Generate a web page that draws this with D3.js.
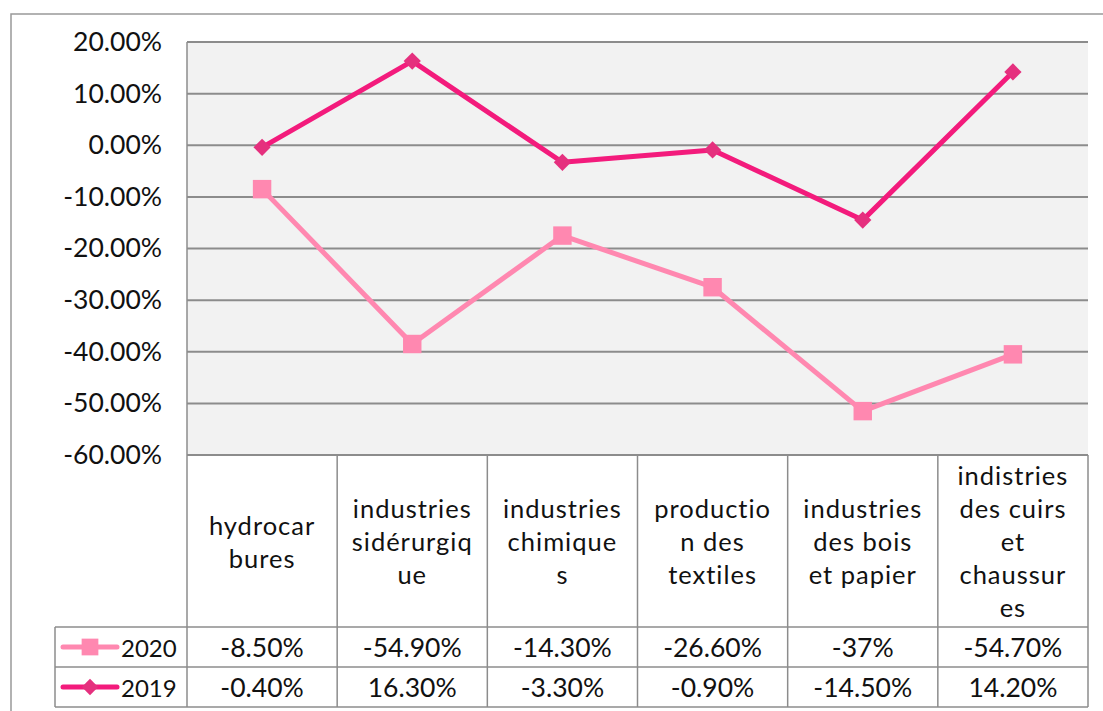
<!DOCTYPE html>
<html>
<head>
<meta charset="utf-8">
<script src="https://cdn.jsdelivr.net/npm/d3@7"></script>
<style>
  body { margin: 0; background: #fff; }
  text { font-family: Lato, "Open Sans", sans-serif; fill: #111; }
</style>
</head>
<body>
<div id="svg_div"></div>
<script>
// Categories (header cells, pre-wrapped like the original)
var categories = [
    ["hydrocar", "bures"],
    ["industries", "sidérurgiq", "ue"],
    ["industries", "chimique", "s"],
    ["productio", "n des", "textiles"],
    ["industries", "des bois", "et papier"],
    ["indistries", "des cuirs", "et", "chaussur", "es"]
];
var seriesNames = ["2020", "2019"];
// Plotted values
var values2020 = [-8.5, -38.5, -17.5, -27.5, -51.5, -40.5];
var values2019 = [-0.4, 16.3, -3.3, -0.9, -14.5, 14.2];
// Values written in the data table
var labels2020 = ["-8.50%", "-54.90%", "-14.30%", "-26.60%", "-37%", "-54.70%"];
var labels2019 = ["-0.40%", "16.30%", "-3.30%", "-0.90%", "-14.50%", "14.20%"];
var yTicks = [20, 10, 0, -10, -20, -30, -40, -50, -60];

var svg = d3.select("#svg_div").append("svg").attr("width", 1103).attr("height", 711);

var margin = {top: 42, left: 187, right: 15, bottom: 256};
var width = 1103 - margin.left - margin.right;
var height = 711 - margin.top - margin.bottom;

var colors = {"2020": "#ff88b0", "2019": "#f31b7c"};
var markerFill = {"2020": "#ff88b0", "2019": "#e5307e"};
var fontSize = 24, numSize = 26.5, headSize = 25.5;

// Outer frame
svg.append("rect")
    .attr("x", 11).attr("y", 14)
    .attr("width", 1120).attr("height", 720)
    .attr("fill", "none").attr("stroke", "#999").attr("stroke-width", 1.5);

var xScale = d3.scaleBand().domain(d3.range(categories.length)).range([0, width]);
var yScale = d3.scaleLinear().domain([-60, 20]).range([height, 0]);

var g = svg.append("g").attr("transform", "translate(" + [margin.left, margin.top] + ")");

// Plot background
g.append("rect").attr("width", width).attr("height", height).attr("fill", "#f2f2f2");

// Gridlines
g.selectAll(".grid").data(yTicks).enter().append("line")
    .attr("x1", 0).attr("x2", width)
    .attr("y1", function(d) { return yScale(d); })
    .attr("y2", function(d) { return yScale(d); })
    .attr("stroke", "#8c8c8c").attr("stroke-width", 2);

g.append("line").attr("x1", 0).attr("x2", 0).attr("y1", 0).attr("y2", height)
    .attr("stroke", "#8c8c8c").attr("stroke-width", 1.5);

// Y axis labels
var yAxis = d3.axisLeft(yScale).tickValues(yTicks).tickSize(0).tickPadding(25)
    .tickFormat(function(d) { return d.toFixed(2) + "%"; });
var yAxisG = g.append("g").call(yAxis);
yAxisG.select(".domain").remove();
yAxisG.selectAll("text").attr("font-size", numSize).attr("font-family", "Lato, sans-serif").attr("fill", "#111");

// Lines and markers
function cx(i) { return xScale(i) + xScale.bandwidth() / 2; }
var series = [{name: "2020", values: values2020}, {name: "2019", values: values2019}];
var line = d3.line().x(function(d, i) { return cx(i); }).y(function(d) { return yScale(d); });

series.forEach(function(s) {
    g.append("path").datum(s.values)
        .attr("d", line).attr("fill", "none")
        .attr("stroke", colors[s.name]).attr("stroke-width", 5)
        .attr("stroke-linejoin", "round");
    var sym = s.name === "2020" ? d3.symbolSquare : d3.symbolDiamond2;
    var size = s.name === "2020" ? 340 : 190;
    g.selectAll(".m" + s.name).data(s.values).enter().append("path")
        .attr("d", d3.symbol().type(sym).size(size))
        .attr("transform", function(d, i) { return "translate(" + [cx(i), yScale(d)] + ")"; })
        .attr("fill", markerFill[s.name]);
});

// Data table
var tableTop = margin.top + height;
var headerH = 172, rowH = 40;
var legendLeft = 55;
var tg = svg.append("g");
var gridColor = "#8c8c8c";

// vertical lines in header + rows
d3.range(categories.length + 1).forEach(function(i) {
    var x = margin.left + (i < categories.length ? xScale(i) : width);
    tg.append("line").attr("x1", x).attr("x2", x)
        .attr("y1", tableTop).attr("y2", tableTop + headerH + 2 * rowH)
        .attr("stroke", gridColor).attr("stroke-width", 1.5);
});
[0, 1, 2].forEach(function(r) {
    var y = tableTop + headerH + r * rowH;
    tg.append("line").attr("x1", legendLeft).attr("x2", margin.left + width)
        .attr("y1", y).attr("y2", y).attr("stroke", gridColor).attr("stroke-width", 1.5);
});
tg.append("line").attr("x1", legendLeft).attr("x2", legendLeft)
    .attr("y1", tableTop + headerH).attr("y2", tableTop + headerH + 2 * rowH)
    .attr("stroke", gridColor).attr("stroke-width", 1.5);

// Header text
var lineH = 33;
categories.forEach(function(lines, i) {
    var midY = tableTop + headerH / 2;
    var startY = midY - (lines.length - 1) * lineH / 2;
    lines.forEach(function(t, j) {
        tg.append("text")
            .attr("x", margin.left + cx(i)).attr("y", startY + j * lineH)
            .attr("text-anchor", "middle").attr("dominant-baseline", "central")
            .attr("font-size", headSize).attr("letter-spacing", 1).text(t);
    });
});

// Row cells and legend keys
var rowLabels = {"2020": labels2020, "2019": labels2019};
seriesNames.forEach(function(name, r) {
    var midY = tableTop + headerH + r * rowH + rowH / 2;
    tg.append("line").attr("x1", 63).attr("x2", 117).attr("y1", midY).attr("y2", midY)
        .attr("stroke", colors[name]).attr("stroke-width", 5).attr("stroke-linecap", "round");
    var sym = name === "2020" ? d3.symbolSquare : d3.symbolDiamond2;
    tg.append("path").attr("d", d3.symbol().type(sym).size(name === "2020" ? 280 : 170))
        .attr("transform", "translate(" + [90, midY] + ")").attr("fill", markerFill[name]);
    tg.append("text").attr("x", 121).attr("y", midY).attr("dominant-baseline", "central")
        .attr("font-size", fontSize).text(name);
    rowLabels[name].forEach(function(t, i) {
        tg.append("text").attr("x", margin.left + cx(i)).attr("y", midY)
            .attr("text-anchor", "middle").attr("dominant-baseline", "central")
            .attr("font-size", numSize).text(t);
    });
});
</script>
</body>
</html>
